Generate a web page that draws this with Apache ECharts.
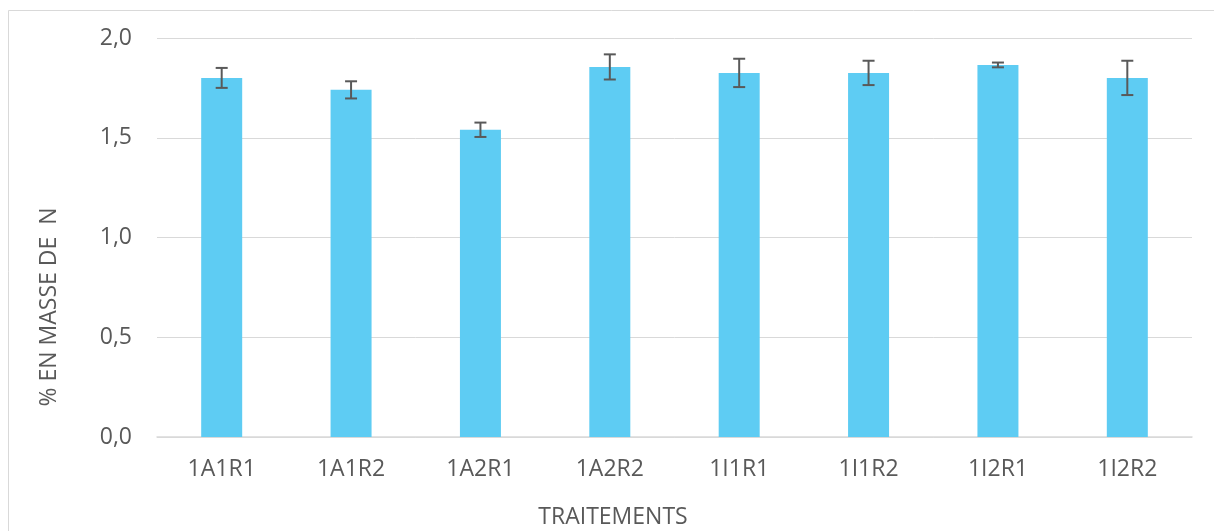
<!DOCTYPE html>
<html>
<head>
<meta charset="utf-8">
<script src="https://cdn.jsdelivr.net/npm/echarts@6/dist/echarts.min.js"></script>
<style>
html,body{margin:0;padding:0;background:#fff;}
#chart{width:1214px;height:531px;}
</style>
</head>
<body>
<div id="chart"></div>
<script>
var categories = ['1A1R1','1A1R2','1A2R1','1A2R2','1I1R1','1I1R2','1I2R1','1I2R2'];
var values = [1.80, 1.74, 1.54, 1.855, 1.825, 1.825, 1.865, 1.80];
var errors = [0.05, 0.043, 0.036, 0.063, 0.071, 0.061, 0.012, 0.086];
var yTickLabels = ['0,0','0,5','1,0','1,5','2,0'];
var xTitle = 'TRAITEMENTS';
var yTitle = '% EN MASSE DE  N';

var FONT = '"Open Sans", sans-serif';
var TXT = '#595959';

var errData = categories.map(function (c, i) {
  return [i, values[i] - errors[i], values[i] + errors[i]];
});

var chart = echarts.init(document.getElementById('chart'), null, {renderer: 'canvas'});
chart.setOption({
  animation: false,
  backgroundColor: '#fff',
  grid: {left: 157, right: 22, top: 38, bottom: 94, containLabel: false},
  xAxis: {
    type: 'category',
    data: categories,
    axisLine: {show: true, lineStyle: {color: '#D9D9D9', width: 1.5}},
    axisTick: {show: false},
    axisLabel: {color: TXT, fontFamily: FONT, fontSize: 23, margin: 21}
  },
  yAxis: {
    type: 'value',
    min: 0, max: 2, interval: 0.5,
    axisLine: {show: false},
    axisTick: {show: false},
    splitLine: {lineStyle: {color: '#D9D9D9', width: 1}},
    axisLabel: {
      color: TXT, fontFamily: FONT, fontSize: 23, margin: 25,
      formatter: function (v) { return yTickLabels[Math.round(v / 0.5)]; }
    }
  },
  series: [
    {
      type: 'bar',
      data: values,
      barWidth: 41,
      itemStyle: {color: '#5ECCF3'},
      z: 2
    },
    {
      type: 'custom',
      data: errData,
      z: 5,
      renderItem: function (params, api) {
        var x = api.value(0);
        var lo = api.coord([x, api.value(1)]);
        var hi = api.coord([x, api.value(2)]);
        var hw = 6;
        var st = {stroke: '#595959', lineWidth: 2};
        return {
          type: 'group',
          children: [
            {type: 'line', shape: {x1: lo[0], y1: lo[1], x2: hi[0], y2: hi[1]}, style: st},
            {type: 'line', shape: {x1: lo[0] - hw, y1: lo[1], x2: lo[0] + hw, y2: lo[1]}, style: st},
            {type: 'line', shape: {x1: hi[0] - hw, y1: hi[1], x2: hi[0] + hw, y2: hi[1]}, style: st}
          ]
        };
      }
    }
  ],
  graphic: [
    {
      type: 'rect', silent: true, z: -10,
      shape: {x: 8.5, y: 10.5, width: 1220, height: 540},
      style: {fill: 'none', stroke: '#D9D9D9', lineWidth: 1}
    },
    {
      type: 'text', silent: true,
      x: 613, y: 517,
      style: {text: xTitle, fill: TXT, font: '23px ' + FONT, textAlign: 'center', textVerticalAlign: 'middle'}
    },
    {
      type: 'text', silent: true,
      x: 49, y: 307, rotation: Math.PI / 2,
      style: {text: yTitle, fill: TXT, font: '23px ' + FONT, textAlign: 'center', textVerticalAlign: 'middle'}
    }
  ]
});
</script>
</body>
</html>
